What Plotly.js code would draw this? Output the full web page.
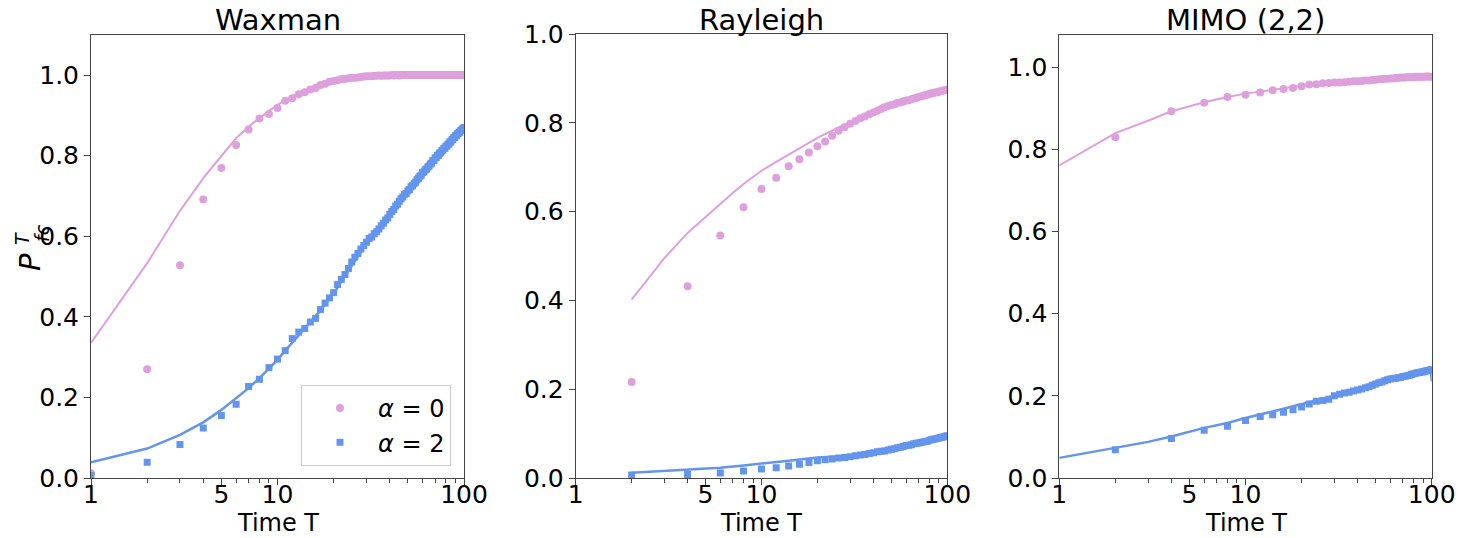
<!DOCTYPE html>
<html>
<head>
<meta charset="utf-8">
<script src="https://cdn.plot.ly/plotly-3.0.1.min.js"></script>
<style>html,body{margin:0;padding:0;background:#fff;}#chart{width:1463px;height:538px;}</style>
</head>
<body>
<div id="chart"></div>
<script>
// ---------- data ----------
const panelTitles = ["Waxman", "Rayleigh", "MIMO (2,2)"];
const xTitle = "Time T";
const legendNames = ["<i>α</i> = 0", "<i>α</i> = 2"];
const xTickVals = [1, 5, 10, 100];
const xTickText = ["1", "5", "10", "100"];
const xMinorVals = [2,3,4,6,7,8,9,20,30,40,50,60,70,80,90];
const yTickVals = [0, 0.2, 0.4, 0.6, 0.8, 1.0];

// Waxman simulation (T = 1..100)
const tWax = [1,2,3,4,5,6,7,8,9,10,11,12,13,14,15,16,17,18,19,20,21,22,23,24,25,26,27,28,29,30,
  31,32,33,34,35,36,37,38,39,40,41,42,43,44,45,46,47,48,49,50,51,52,53,54,55,56,57,58,59,60,
  61,62,63,64,65,66,67,68,69,70,71,72,73,74,75,76,77,78,79,80,81,82,83,84,85,86,87,88,89,90,
  91,92,93,94,95,96,97,98,99,100];
const waxA0 = [0.012,0.270,0.528,0.691,0.769,0.826,0.865,0.892,0.903,0.918,
  0.936,0.942,0.952,0.957,0.964,0.968,0.975,0.978,0.983,0.985,
  0.987,0.990,0.990,0.992,0.993,0.993,0.994,0.995,0.996,0.997,
  0.997,0.997,0.998,0.998,0.999,0.998,0.999,0.999,0.999,0.999,
  1.000,0.999,1.000,1.000,0.999,1.000,1.000,1.000,1.000,1.000,
  1.000,1.000,1.000,1.000,1.000,1.000,1.000,1.000,1.000,1.000,
  1.000,1.000,1.000,1.000,1.000,1.000,1.000,1.000,1.000,1.000,
  1.000,1.000,1.000,1.000,1.000,1.000,1.000,1.000,1.000,1.000,
  1.000,1.000,1.000,1.000,1.000,1.000,1.000,1.000,1.000,1.000,
  1.000,1.000,1.000,1.000,1.000,1.000,1.000,1.000,1.000,1.000];
const waxA2 = [0.006,0.039,0.083,0.124,0.155,0.183,0.227,0.245,0.274,0.295,
  0.316,0.346,0.362,0.371,0.387,0.396,0.418,0.434,0.447,0.460,
  0.480,0.493,0.505,0.520,0.536,0.548,0.557,0.568,0.577,0.585,
  0.594,0.598,0.606,0.611,0.618,0.626,0.632,0.640,0.645,0.654,
  0.661,0.666,0.675,0.679,0.687,0.693,0.697,0.704,0.706,0.713,
  0.716,0.723,0.725,0.731,0.734,0.740,0.744,0.749,0.751,0.758,
  0.760,0.765,0.767,0.772,0.774,0.779,0.781,0.787,0.788,0.794,
  0.795,0.801,0.801,0.806,0.807,0.812,0.813,0.818,0.818,0.823,
  0.824,0.828,0.829,0.834,0.834,0.839,0.840,0.844,0.845,0.849,
  0.849,0.854,0.854,0.858,0.858,0.862,0.863,0.866,0.867,0.870];
// Waxman theory
const tWaxLine = [1,2,3,4,5,6,7,8,9,10,11,12,13,14,15,17,20,25,30,35,40,50,60,70,80,90,100];
const waxLineA0 = [0.335,0.533,0.663,0.744,0.799,0.843,0.872,0.894,0.911,0.926,0.938,0.947,0.954,0.960,0.965,0.973,0.981,0.989,0.994,0.997,0.998,0.999,1.0,1.0,1.0,1.0,1.0];
const waxLineA2 = [0.039,0.073,0.107,0.138,0.169,0.198,0.223,0.248,0.273,0.293,0.316,0.336,0.353,0.370,0.386,0.416,0.458,0.528,0.583,0.625,0.657,0.712,0.757,0.793,0.822,0.848,0.870];

// Rayleigh and MIMO simulation (T = 2,4,...,100)
const tEven = [2,4,6,8,10,12,14,16,18,20,22,24,26,28,30,32,34,36,38,40,42,44,46,48,50,
  52,54,56,58,60,62,64,66,68,70,72,74,76,78,80,82,84,86,88,90,92,94,96,98,100];
const rayA0 = [0.216,0.432,0.546,0.610,0.651,0.676,0.702,0.718,0.733,0.747,
  0.758,0.771,0.782,0.790,0.798,0.804,0.810,0.814,0.819,0.823,
  0.827,0.831,0.835,0.838,0.840,0.842,0.845,0.846,0.848,0.850,
  0.851,0.853,0.855,0.856,0.858,0.859,0.861,0.862,0.863,0.865,
  0.866,0.867,0.868,0.869,0.870,0.871,0.872,0.873,0.874,0.875];
const rayA2 = [0.007,0.008,0.011,0.016,0.020,0.023,0.027,0.031,0.035,0.039,
  0.041,0.043,0.045,0.046,0.048,0.050,0.052,0.053,0.055,0.057,
  0.059,0.060,0.061,0.063,0.065,0.066,0.068,0.069,0.071,0.073,
  0.074,0.075,0.077,0.078,0.079,0.080,0.081,0.082,0.083,0.085,
  0.086,0.087,0.088,0.089,0.090,0.091,0.092,0.093,0.094,0.095];
const tRayLineA0 = [2,3,4,5,6,7,8,10,12,14,16,20,25,30,40,50,60,70,80,90,100];
const rayLineA0 = [0.402,0.495,0.552,0.588,0.619,0.642,0.662,0.692,0.712,0.728,0.742,0.766,0.786,0.802,0.825,0.840,0.850,0.858,0.865,0.870,0.875];
const tRayLineA2 = [2,4,6,8,10,14,20,30,40,50,60,70,80,90,100];
const rayLineA2 = [0.012,0.018,0.023,0.028,0.033,0.039,0.046,0.050,0.057,0.065,0.073,0.079,0.085,0.090,0.095];

const mimoA0 = [0.830,0.893,0.914,0.928,0.933,0.939,0.944,0.947,0.950,0.954,
  0.958,0.959,0.961,0.962,0.963,0.963,0.964,0.965,0.966,0.966,
  0.967,0.968,0.968,0.969,0.970,0.971,0.971,0.972,0.972,0.973,
  0.973,0.974,0.974,0.975,0.975,0.975,0.976,0.976,0.976,0.976,
  0.977,0.977,0.977,0.977,0.977,0.977,0.978,0.978,0.977,0.977];
const mimoA2 = [0.069,0.096,0.116,0.126,0.140,0.150,0.154,0.160,0.166,0.173,
  0.180,0.187,0.189,0.192,0.200,0.204,0.207,0.209,0.212,0.214,
  0.217,0.220,0.222,0.226,0.229,0.232,0.234,0.237,0.239,0.241,
  0.242,0.243,0.244,0.245,0.247,0.248,0.249,0.250,0.252,0.254,
  0.255,0.256,0.257,0.258,0.259,0.260,0.261,0.262,0.263,0.264];
const tMimoLineA0 = [1,2,3,4,6,8,10,15,20,30,40,50,60,80,100];
const mimoLineA0 = [0.761,0.840,0.870,0.893,0.915,0.928,0.936,0.947,0.955,0.963,0.967,0.970,0.973,0.976,0.977];
const tMimoLineA2 = [1,2,3,4,6,8,10,14,20,30,40,50,60,70,80,90,99,100];
const mimoLineA2 = [0.049,0.073,0.088,0.101,0.122,0.134,0.146,0.162,0.180,0.200,0.215,0.228,0.240,0.247,0.254,0.259,0.263,0.235];

// ---------- styling ----------
const PINK = "#DDA0DD", BLUE = "#6495ED";
const FONT = "DejaVu Sans, sans-serif";
const W = 1463, H = 538;
const px2x = p => p / W, px2y = p => 1 - p / H;

function pts(x, y, color, symbol, size, name, xa, ya, show) {
  return {x, y, type: "scatter", mode: "markers", xaxis: xa, yaxis: ya, name,
    showlegend: show, marker: {color, symbol, size, line: {width: 0}}, hoverinfo: "x+y"};
}
function ln(x, y, color, width, xa, ya) {
  return {x, y, type: "scatter", mode: "lines", xaxis: xa, yaxis: ya,
    showlegend: false, line: {color, width}, hoverinfo: "x+y"};
}

const data = [
  pts(tWax, waxA0, PINK, "circle", 8, legendNames[0], "x", "y", true),
  pts(tWax, waxA2, BLUE, "square", 7, legendNames[1], "x", "y", true),
  ln(tWaxLine, waxLineA0, PINK, 2, "x", "y"),
  ln(tWaxLine, waxLineA2, BLUE, 2.5, "x", "y"),
  pts(tEven, rayA0, PINK, "circle", 8, legendNames[0], "x2", "y2", false),
  pts(tEven, rayA2, BLUE, "square", 7, legendNames[1], "x2", "y2", false),
  ln(tRayLineA0, rayLineA0, PINK, 2, "x2", "y2"),
  ln(tRayLineA2, rayLineA2, BLUE, 2.5, "x2", "y2"),
  pts(tEven, mimoA0, PINK, "circle", 8, legendNames[0], "x3", "y3", false),
  pts(tEven, mimoA2, BLUE, "square", 7, legendNames[1], "x3", "y3", false),
  ln(tMimoLineA0, mimoLineA0, PINK, 2, "x3", "y3"),
  ln(tMimoLineA2, mimoLineA2, BLUE, 2.5, "x3", "y3")
];

const AX = "#444";
const TICKFONT = {family: FONT, size: 25, color: "#000"};
function xaxis(d0, d1, anchor) {
  return {domain: [px2x(d0), px2x(d1)], anchor, type: "log", range: [0, 2],
    tickmode: "array", tickvals: xTickVals, ticktext: xTickText,
    ticks: "outside", ticklen: 6, tickwidth: 1, tickcolor: AX, ticklabelstandoff: -12,
    minor: {tickmode: "array", tickvals: xMinorVals, ticks: "outside", ticklen: 3.5, tickwidth: 1, tickcolor: AX, showgrid: false},
    showgrid: false, zeroline: false, showline: true, linecolor: AX, linewidth: 1, mirror: true,
    tickfont: TICKFONT, automargin: false};
}
function yaxis(top, maxv, anchor) {
  return {domain: [px2y(478), px2y(top)], anchor, range: [0, maxv],
    tickmode: "array", tickvals: yTickVals, tickformat: ".1f",
    ticks: "outside", ticklen: 6, tickwidth: 1, tickcolor: AX,
    showgrid: false, zeroline: false, showline: true, linecolor: AX, linewidth: 1, mirror: true,
    tickfont: TICKFONT, automargin: false};
}

const titleFont = {family: FONT, size: 29, color: "#000"};
const xTitleFont = {family: FONT, size: 24, color: "#000"};
const panelX = [[91, 464], [575.7, 947.3], [1059.3, 1431.7]];
const annotations = [];
panelX.forEach((p, i) => {
  annotations.push({text: panelTitles[i], x: px2x((p[0] + p[1]) / 2), y: px2y(20), xref: "paper", yref: "paper",
    showarrow: false, font: titleFont, xanchor: "center", yanchor: "middle"});
  annotations.push({text: xTitle, x: px2x((p[0] + p[1]) / 2), y: px2y(523), xref: "paper", yref: "paper",
    showarrow: false, font: xTitleFont, xanchor: "center", yanchor: "middle"});
});
// y-axis label  P^T_fc  (rotated)
annotations.push({text: "<i>P</i>", x: px2x(30), y: px2y(262), xref: "paper", yref: "paper", showarrow: false, textangle: -90, font: {family: FONT, size: 29, color: "#000"}, xanchor: "center", yanchor: "middle"});
annotations.push({text: "<i>fc</i>", x: px2x(42), y: px2y(233), xref: "paper", yref: "paper", showarrow: false, textangle: -90, font: {family: FONT, size: 19, color: "#000"}, xanchor: "center", yanchor: "middle"});
annotations.push({text: "<i>T</i>", x: px2x(22), y: px2y(239), xref: "paper", yref: "paper", showarrow: false, textangle: -90, font: {family: FONT, size: 19, color: "#000"}, xanchor: "center", yanchor: "middle"});

const layout = {
  width: W, height: H,
  margin: {l: 0, r: 0, t: 0, b: 0},
  paper_bgcolor: "#fff", plot_bgcolor: "#fff",
  font: {family: FONT, color: "#000"},
  xaxis: xaxis(91, 464, "y"),
  yaxis: yaxis(34.7, 1.1, "x"),
  xaxis2: xaxis(575.7, 947.3, "y2"),
  yaxis2: yaxis(34, 1.0, "x2"),
  xaxis3: xaxis(1059.3, 1431.7, "y3"),
  yaxis3: yaxis(34.7, 1.0795, "x3"),
  showlegend: true,
  legend: {x: px2x(451), y: px2y(466), xanchor: "right", yanchor: "bottom",
    bgcolor: "rgba(255,255,255,0.8)", bordercolor: "#ccc", borderwidth: 1,
    font: {family: FONT, size: 24, color: "#000"}, itemsizing: "trace", itemwidth: 66, tracegroupgap: 2},
  annotations
};

Plotly.newPlot("chart", data, layout, {staticPlot: true, displayModeBar: false});
</script>
</body>
</html>
